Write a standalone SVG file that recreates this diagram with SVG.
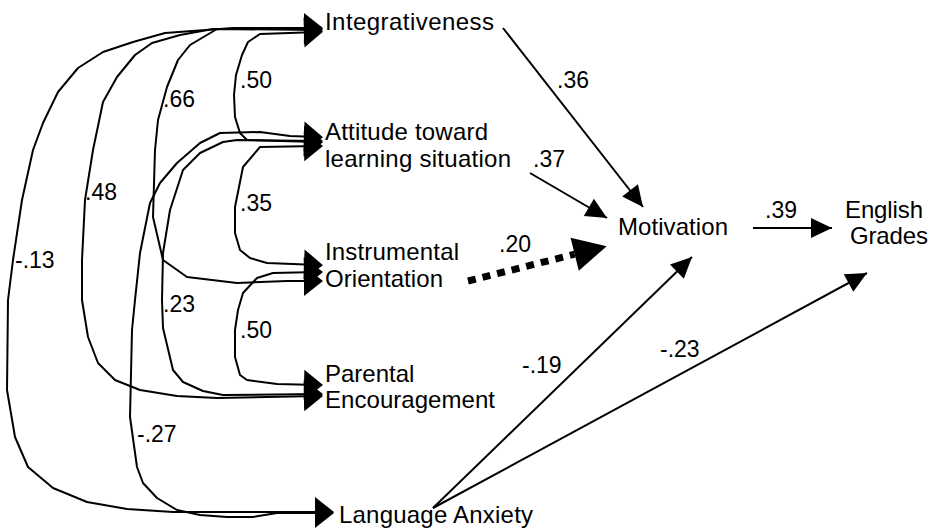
<svg xmlns="http://www.w3.org/2000/svg" width="935" height="532" viewBox="0 0 935 532">
<style>
text{font-family:"Liberation Sans",Arial,sans-serif;fill:#000}
.n{font-size:24px}
.l{font-size:23px}
.c{fill:none;stroke:#000;stroke-width:2;stroke-linejoin:round;marker-start:url(#ah);marker-end:url(#ah)}
.p{fill:none;stroke:#000;stroke-width:2;marker-end:url(#pa)}
</style>
<defs>
<marker id="ah" markerUnits="userSpaceOnUse" markerWidth="19" markerHeight="30" refX="14" refY="15" orient="auto-start-reverse" overflow="visible"><path d="M0,0 L19,15 L0,30 z" fill="#000"/></marker>
<marker id="pa" markerUnits="userSpaceOnUse" markerWidth="21" markerHeight="20" refX="21" refY="10" orient="auto" overflow="visible"><path d="M0,0 L21,10 L0,20 z" fill="#000"/></marker>
<marker id="big" markerUnits="userSpaceOnUse" markerWidth="33" markerHeight="34" refX="0" refY="17" orient="auto" overflow="visible"><path d="M0,0 L33,17 L0,34 z" fill="#000"/></marker>
</defs>
<rect width="935" height="532" fill="#fff"/>
<g id="connectors">
<path class="c" d="M318,28 L233,28 L165,33 L133,42 L103,52 L78,68 L58,92 L43,123 L33,150 L22,200 L13,260 L8,300 L7,390 L15,437 L28,467 L53,488 L87,502 L127,509 L173,512 L329,512"/>
<path class="c" d="M318,29 L213,29 L180,35 L152,43 L135,55 L117,77 L103,102 L93,150 L85,200 L82,260 L82,300 L88,337 L98,363 L115,380 L140,390 L177,396 L217,398 L318,396"/>
<path class="c" d="M318,30 L217,29 L190,45 L178,60 L167,87 L158,120 L155,150 L153,217 L163,260 L187,277 L237,283 L287,281 L318,281"/>
<path class="c" d="M318,32 L260,34 L248,42 L242,55 L236,75 L234,95 L235,117 L240,133 L247,140 L318,142"/>
<path class="c" d="M318,146 L260,147 L243,167 L235,207 L235,233 L240,250 L250,258 L267,263 L318,265"/>
<path class="c" d="M318,141 L237,140 L223,142 L200,153 L183,170 L170,210 L163,253 L162,300 L163,328 L173,370 L183,382 L203,391 L223,395 L318,394"/>
<path class="c" d="M318,137 L290,136 L260,132 L220,133 L200,143 L177,163 L160,183 L150,203 L140,253 L135,300 L132,330 L130,417 L137,467 L143,483 L157,498 L177,510 L200,515 L227,517 L253,517 L277,513 L329,513"/>
<path class="c" d="M318,272 L273,273 L257,278 L243,293 L238,310 L235,330 L235,357 L240,375 L247,380 L277,384 L318,385"/>
<path class="p" d="M503,28 L643,207"/>
<path class="p" d="M530,173 L607,218"/>
<path d="M468,281 L574.7,254.2" fill="none" stroke="#000" stroke-width="7" stroke-dasharray="8 7" marker-end="url(#big)"/>
<path class="p" d="M753,228 L832,228"/>
<path class="p" d="M433,508 L692,257"/>
<path class="p" d="M433,508 L867,273"/>
<text class="l" x="557" y="88">.36</text>
<text class="l" x="533" y="167">.37</text>
<text class="l" x="499" y="252">.20</text>
<text class="l" x="765" y="218">.39</text>
<text class="l" x="522" y="373">-.19</text>
<text class="l" x="660" y="357">-.23</text>
<text class="l" x="240" y="88">.50</text>
<text class="l" x="163" y="107">.66</text>
<text class="l" x="85" y="200">.48</text>
<text class="l" x="240" y="211">.35</text>
<text class="l" x="15" y="268">-.13</text>
<text class="l" x="163" y="312">.23</text>
<text class="l" x="240" y="338">.50</text>
<text class="l" x="137" y="442">-.27</text>
</g>
<g id="integrativeness"><text class="n" x="325" y="30" textLength="169" lengthAdjust="spacing">Integrativeness</text></g>
<g id="attitude"><text class="n" x="325" y="140" textLength="163" lengthAdjust="spacing">Attitude toward</text><text class="n" x="325" y="167" textLength="186" lengthAdjust="spacing">learning situation</text></g>
<g id="instrumental"><text class="n" x="325" y="260" textLength="134" lengthAdjust="spacing">Instrumental</text><text class="n" x="325" y="287" textLength="118" lengthAdjust="spacing">Orientation</text></g>
<g id="parental"><text class="n" x="325" y="382">Parental</text><text class="n" x="325" y="408" textLength="170" lengthAdjust="spacing">Encouragement</text></g>
<g id="anxiety"><text class="n" x="339" y="523" textLength="194" lengthAdjust="spacing">Language Anxiety</text></g>
<g id="motivation"><text class="n" x="618" y="235" textLength="110" lengthAdjust="spacing">Motivation</text></g>
<g id="grades"><text class="n" x="845" y="218" textLength="78" lengthAdjust="spacing">English</text><text class="n" x="850" y="244" textLength="78" lengthAdjust="spacing">Grades</text></g>
</svg>
